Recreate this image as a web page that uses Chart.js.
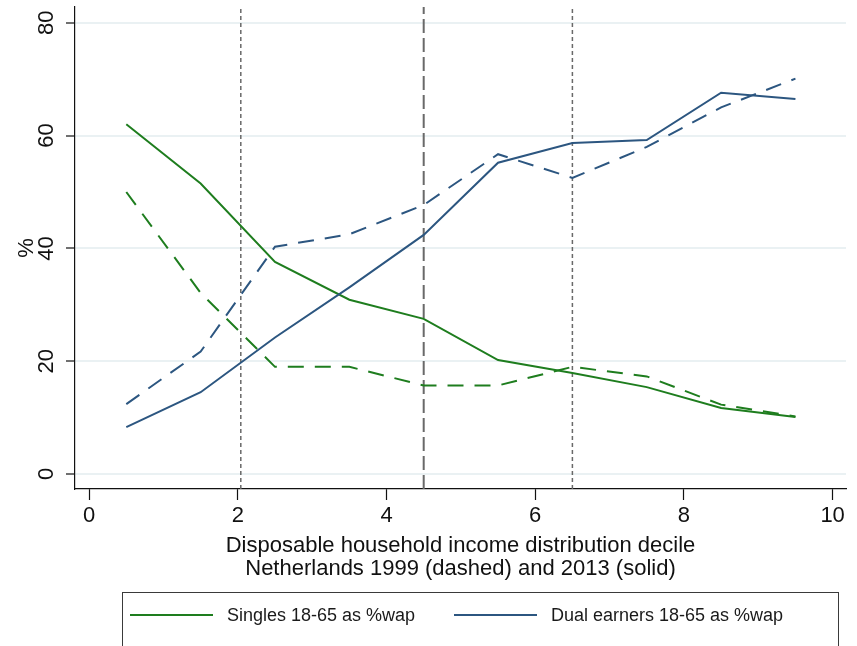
<!DOCTYPE html>
<html>
<head>
<meta charset="utf-8">
<script src="https://cdn.jsdelivr.net/npm/chart.js@4.4.1/dist/chart.umd.min.js"></script>
<style>
  html, body { margin: 0; padding: 0; background: #ffffff; }
  canvas { display: block; }
</style>
</head>
<body>
<canvas id="chart" width="857" height="646"></canvas>
<script>
// Decile midpoints on the x axis
const deciles = [0.5, 1.5, 2.5, 3.5, 4.5, 5.5, 6.5, 7.5, 8.5, 9.5];

// Share of working-age population (%), Netherlands
const singles2013 = [62.0, 51.5, 37.6, 30.9, 27.5, 20.2, 17.9, 15.4, 11.7, 10.1];
const singles1999 = [50.0, 32.1, 19.0, 19.0, 15.7, 15.7, 19.0, 17.3, 12.3, 10.2];
const dual2013    = [8.3, 14.5, 24.2, 33.1, 42.4, 55.2, 58.7, 59.2, 67.6, 66.5];
const dual1999    = [12.4, 21.7, 40.3, 42.5, 47.7, 56.7, 52.5, 58.0, 65.0, 70.1];

// Vertical reference lines (decile positions)
const refLines = [2.04, 4.5, 6.5];

// Tick labels
const xTicks = [0, 2, 4, 6, 8, 10];
const yTicks = [0, 20, 40, 60, 80];

// Axis ranges
const xRange = [-0.19, 10.18];
const yRange = [-2.66, 82.8];

const FONT = "'Liberation Sans', Arial, Helvetica, sans-serif";
const GREEN = 'rgb(30,125,30)';
const BLUE = 'rgb(44,86,128)';
const REF = 'rgb(105,105,105)';

const pts = ys => deciles.map((x, i) => ({ x: x, y: ys[i] }));

const refStyles = [
  { dash: [4, 3], width: 1.5 },
  { dash: [14, 5], width: 2 },
  { dash: [4, 3], width: 1.5 }
];

const refDatasets = refLines.map((v, i) => ({
  label: 'ref ' + v,
  data: [{ x: v, y: yRange[0] }, { x: v, y: yRange[1] }],
  borderColor: REF,
  borderWidth: refStyles[i].width,
  borderDash: refStyles[i].dash,
  pointRadius: 0,
  fill: false,
  order: 5
}));

const seriesDatasets = [
  { label: 'Dual earners 18-65 as %wap (1999)', data: pts(dual1999), borderColor: BLUE, borderDash: [16, 11], inLegend: false },
  { label: 'Singles 18-65 as %wap (1999)', data: pts(singles1999), borderColor: GREEN, borderDash: [16, 11], inLegend: false },
  { label: 'Dual earners 18-65 as %wap', data: pts(dual2013), borderColor: BLUE, inLegend: true, legendSlot: 1 },
  { label: 'Singles 18-65 as %wap', data: pts(singles2013), borderColor: GREEN, inLegend: true, legendSlot: 0 }
].map(d => Object.assign({ borderWidth: 2, pointRadius: 0, fill: false, tension: 0, order: 1 }, d));

// Boxed legend below the axis titles
const legendBox = {
  id: 'legendBox',
  afterDraw(chart) {
    const ctx = chart.ctx;
    ctx.save();
    ctx.strokeStyle = '#3a3a3a';
    ctx.lineWidth = 1;
    ctx.strokeRect(122.5, 592.5, 716, 80);
    const slots = [130, 454];
    chart.data.datasets.filter(d => d.inLegend).forEach(d => {
      const x0 = slots[d.legendSlot];
      const y0 = 615;
      ctx.strokeStyle = d.borderColor;
      ctx.lineWidth = 2;
      ctx.setLineDash([]);
      ctx.beginPath();
      ctx.moveTo(x0, y0);
      ctx.lineTo(x0 + 83, y0);
      ctx.stroke();
      ctx.fillStyle = '#1a1a1a';
      ctx.font = '18px ' + FONT;
      ctx.textAlign = 'left';
      ctx.textBaseline = 'middle';
      ctx.fillText(d.label, x0 + 97, y0 + 1);
    });
    ctx.restore();
  }
};

new Chart(document.getElementById('chart'), {
  type: 'line',
  data: { datasets: [...refDatasets, ...seriesDatasets] },
  plugins: [legendBox],
  options: {
    responsive: false,
    animation: false,
    devicePixelRatio: 1,
    layout: { padding: { top: 7, right: 11, bottom: 66, left: 0 } },
    plugins: { legend: { display: false }, tooltip: { enabled: false } },
    scales: {
      x: {
        type: 'linear',
        min: xRange[0],
        max: xRange[1],
        afterBuildTicks: s => { s.ticks = xTicks.map(v => ({ value: v })); },
        afterFit: s => { s.height = 91; s.paddingLeft = 0; s.paddingRight = 0; },
        grid: { drawOnChartArea: false, drawTicks: true, tickLength: 11, tickColor: '#111', tickWidth: 1.2 },
        border: { display: true, color: '#111', width: 1.2 },
        ticks: { color: '#111', padding: 3, font: { family: FONT, size: 22, lineHeight: 1.2 }, maxRotation: 0 },
        title: {
          display: true,
          text: ['Disposable household income distribution decile', 'Netherlands 1999 (dashed) and 2013 (solid)'],
          color: '#111',
          padding: { top: 0, bottom: 0 },
          font: { family: FONT, size: 22, lineHeight: 23 / 22 }
        }
      },
      y: {
        type: 'linear',
        min: yRange[0],
        max: yRange[1],
        afterBuildTicks: s => { s.ticks = yTicks.map(v => ({ value: v })); },
        afterFit: s => { s.width = 75; s.paddingTop = 0; s.paddingBottom = 0; },
        grid: { color: 'rgb(234,241,243)', lineWidth: 2, drawTicks: true, tickLength: 9, tickColor: '#111', tickWidth: 1.2 },
        border: { display: true, color: '#111', width: 1.2 },
        ticks: { color: '#111', padding: 7, crossAlign: 'center', minRotation: 90, maxRotation: 90, font: { family: FONT, size: 22, lineHeight: 1.2 } },
        title: {
          display: true,
          text: '%',
          color: '#111',
          padding: { top: 14, bottom: 0 },
          font: { family: FONT, size: 22, lineHeight: 1.2 }
        }
      }
    }
  }
});
</script>
</body>
</html>
